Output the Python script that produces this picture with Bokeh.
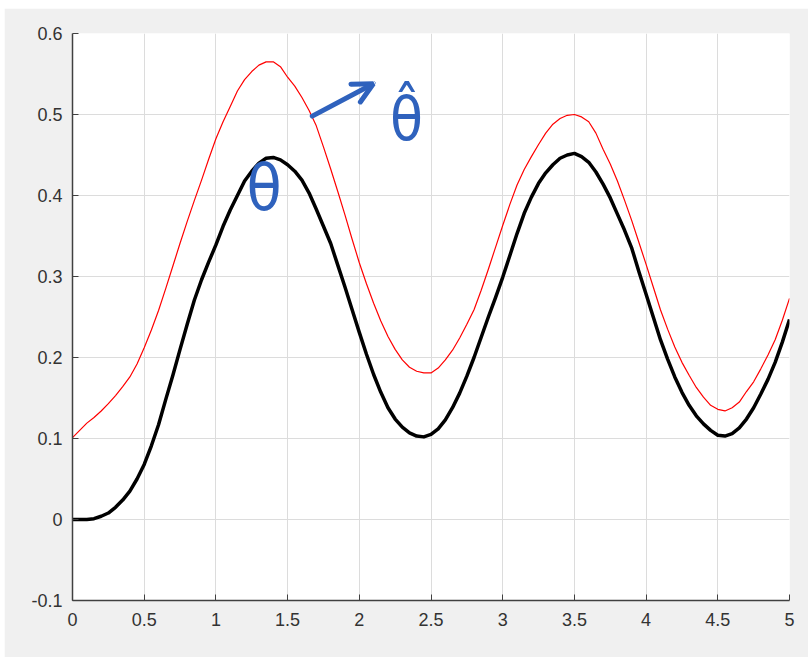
from bokeh.plotting import figure
from bokeh.layouts import column, row
from bokeh.models import Spacer, FixedTicker, Arrow, OpenHead
from bokeh.core.properties import value
from bokeh.embed import file_html
from bokeh.resources import INLINE

# time samples, every 0.05 s
t = [round(0.05 * i, 2) for i in range(101)]

# true response theta
theta = [0.000, 0.000, 0.000, 0.001, 0.004, 0.008, 0.015, 0.024, 0.035, 0.050,
         0.068, 0.091, 0.117, 0.148, 0.178, 0.210, 0.241, 0.271, 0.296, 0.318,
         0.339, 0.362, 0.382, 0.400, 0.418, 0.430, 0.440, 0.446, 0.447, 0.444,
         0.438, 0.430, 0.419, 0.403, 0.383, 0.362, 0.341, 0.314, 0.287, 0.259,
         0.231, 0.204, 0.179, 0.157, 0.138, 0.124, 0.114, 0.107, 0.103, 0.102,
         0.105, 0.112, 0.123, 0.138, 0.156, 0.177, 0.200, 0.225, 0.250, 0.274,
         0.299, 0.326, 0.353, 0.378, 0.398, 0.415, 0.428, 0.438, 0.446, 0.450,
         0.452, 0.448, 0.441, 0.429, 0.414, 0.397, 0.377, 0.357, 0.335, 0.306,
         0.278, 0.250, 0.222, 0.198, 0.176, 0.157, 0.141, 0.128, 0.118, 0.110,
         0.104, 0.103, 0.106, 0.113, 0.124, 0.138, 0.155, 0.173, 0.194, 0.219,
         0.247]

# estimate theta-hat
theta_hat = [0.101, 0.110, 0.119, 0.126, 0.134, 0.143, 0.153, 0.164, 0.176, 0.192,
             0.212, 0.234, 0.258, 0.285, 0.313, 0.341, 0.368, 0.394, 0.419, 0.445,
             0.470, 0.491, 0.510, 0.529, 0.543, 0.553, 0.561, 0.565, 0.565, 0.559,
             0.546, 0.535, 0.521, 0.505, 0.486, 0.460, 0.433, 0.405, 0.376, 0.346,
             0.317, 0.291, 0.267, 0.245, 0.226, 0.210, 0.197, 0.188, 0.183, 0.181,
             0.181, 0.187, 0.197, 0.209, 0.224, 0.241, 0.259, 0.283, 0.309, 0.336,
             0.363, 0.389, 0.413, 0.432, 0.448, 0.463, 0.477, 0.488, 0.495, 0.499,
             0.500, 0.497, 0.491, 0.477, 0.457, 0.439, 0.418, 0.394, 0.369, 0.342,
             0.315, 0.287, 0.259, 0.235, 0.213, 0.194, 0.178, 0.163, 0.151, 0.141,
             0.136, 0.134, 0.138, 0.145, 0.158, 0.170, 0.186, 0.203, 0.222, 0.246,
             0.273]

x_ticks = [0, 0.5, 1, 1.5, 2, 2.5, 3, 3.5, 4, 4.5, 5]
x_labels = ["0", "0.5", "1", "1.5", "2", "2.5", "3", "3.5", "4", "4.5", "5"]
y_ticks = [-0.1, 0, 0.1, 0.2, 0.3, 0.4, 0.5, 0.6]
y_labels = ["-0.1", "0", "0.1", "0.2", "0.3", "0.4", "0.5", "0.6"]

BG = "#f0f0f0"
AX = "#404040"
INK = "#2f62bd"

p = figure(width=804, height=649, x_range=(0, 5), y_range=(-0.1, 0.6),
           output_backend="svg", toolbar_location=None,
           background_fill_color="white", border_fill_color=BG,
           min_border_left=68, min_border_right=19,
           min_border_top=25, min_border_bottom=57)
p.outline_line_color = None

for ax, ticks, labels in ((p.xaxis[0], x_ticks, x_labels), (p.yaxis[0], y_ticks, y_labels)):
    ax.ticker = FixedTicker(ticks=ticks)
    ax.major_label_overrides = {tk: lb for tk, lb in zip(ticks, labels)}
    ax.minor_tick_line_color = None
    ax.major_tick_in = 6
    ax.major_tick_out = 0
    ax.major_tick_line_color = AX
    ax.axis_line_color = AX
    ax.axis_line_width = 1.5
    ax.major_label_text_color = "#333333"
    ax.major_label_text_font = "Liberation Sans"
    ax.major_label_text_font_size = "18px"
p.xaxis.major_label_standoff = 12
p.yaxis.major_label_standoff = 10

p.xgrid.ticker = FixedTicker(ticks=x_ticks)
p.ygrid.ticker = FixedTicker(ticks=y_ticks)
for g in (p.xgrid[0], p.ygrid[0]):
    g.grid_line_color = "#dcdcdc"
    g.grid_line_width = 1

p.line(t, theta_hat, line_color="#ff0000", line_width=1.2)
p.line(t, theta, line_color="black", line_width=3.5, line_join="round")

# hand-written labels and pointer
p.text(x=[1.337], y=[0.409], text=["θ"], text_font=value("DejaVu Sans Condensed"),
       text_font_size="64px", text_color=INK, text_align="center",
       text_baseline="alphabetic")
p.text(x=[2.329], y=[0.494], text=["θ̂"], text_font=value("DejaVu Sans Condensed"),
       text_font_size="60px", text_color=INK, text_align="center",
       text_baseline="alphabetic")
p.add_layout(Arrow(end=OpenHead(size=20, line_color=INK, line_width=5, line_cap="round"),
                   x_start=1.672, y_start=0.498, x_end=2.098, y_end=0.538,
                   line_color=INK, line_width=5, line_cap="round"))

layout = column(Spacer(height=8), row(Spacer(width=4), p))
open("out.html", "w").write(file_html(layout, INLINE))
